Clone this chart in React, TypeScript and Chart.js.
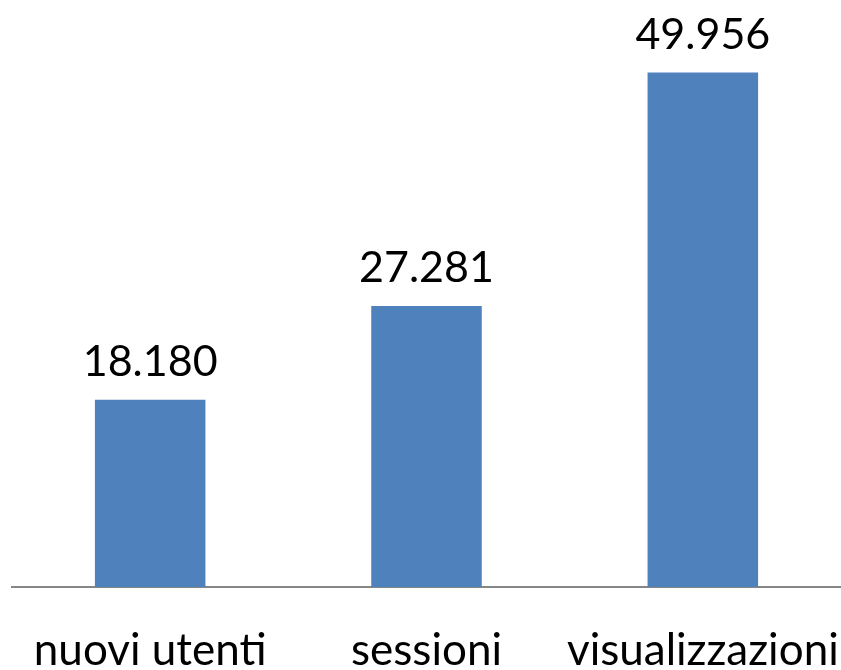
import React, { useEffect, useRef } from "react";
import { Chart, registerables } from "chart.js";

Chart.register(...registerables);

const categories = ["nuovi utenti", "sessioni", "visualizzazioni"];
const values = [18180, 27281, 49956];

const formatIt = (v: number) => String(v).replace(/\B(?=(\d{3})+(?!\d))/g, ".");

const FONT = "Lato, 'Open Sans', sans-serif";

const valueLabels = {
  id: "valueLabels",
  afterDatasetsDraw(chart: any) {
    const ctx = chart.ctx;
    const meta = chart.getDatasetMeta(0);
    ctx.save();
    ctx.font = `43px ${FONT}`;
    ctx.fillStyle = "#000000";
    ctx.textAlign = "center";
    ctx.textBaseline = "alphabetic";
    meta.data.forEach((bar: any, i: number) => {
      const v = chart.data.datasets[0].data[i] as number;
      ctx.fillText(formatIt(v), bar.x, bar.y - 24);
    });
    ctx.restore();
  },
};

const categoryLabels = {
  id: "categoryLabels",
  afterDraw(chart: any) {
    const ctx = chart.ctx;
    const xScale = chart.scales.x;
    ctx.save();
    ctx.font = `44px ${FONT}`;
    ctx.fillStyle = "#000000";
    ctx.textAlign = "center";
    ctx.textBaseline = "alphabetic";
    (chart.data.labels as string[]).forEach((lab: string, i: number) => {
      ctx.fillText(lab, xScale.getPixelForValue(i), xScale.top + 78);
    });
    ctx.restore();
  },
};

export default function App() {
  const ref = useRef<HTMLCanvasElement | null>(null);
  useEffect(() => {
    document.body.style.margin = "0";
    const chart = new Chart(ref.current!, {
      type: "bar",
      data: {
        labels: categories,
        datasets: [
          {
            data: values,
            backgroundColor: "#4F81BD",
            categoryPercentage: 1,
            barPercentage: 0.4,
          },
        ],
      },
      options: {
        animation: false,
        responsive: false,
        maintainAspectRatio: false,
        layout: { padding: { left: 12, right: 0, top: 0, bottom: 0 } },
        plugins: { legend: { display: false }, tooltip: { enabled: false } },
        scales: {
          x: {
            grid: { display: false, drawTicks: false },
            border: { display: true, color: "#868686", width: 2 },
            ticks: { display: false },
            afterFit: (scale: any) => {
              scale.height = 83;
              scale.paddingLeft = 0;
              scale.paddingRight = 0;
            },
          },
          y: {
            display: false,
            min: 0,
            max: 57000,
          },
        },
      },
      plugins: [valueLabels, categoryLabels],
    });
    return () => chart.destroy();
  }, []);
  return (
    <div style={{ width: 841, height: 670 }}>
      <canvas ref={ref} width={841} height={670} style={{ display: "block" }} />
    </div>
  );
}
